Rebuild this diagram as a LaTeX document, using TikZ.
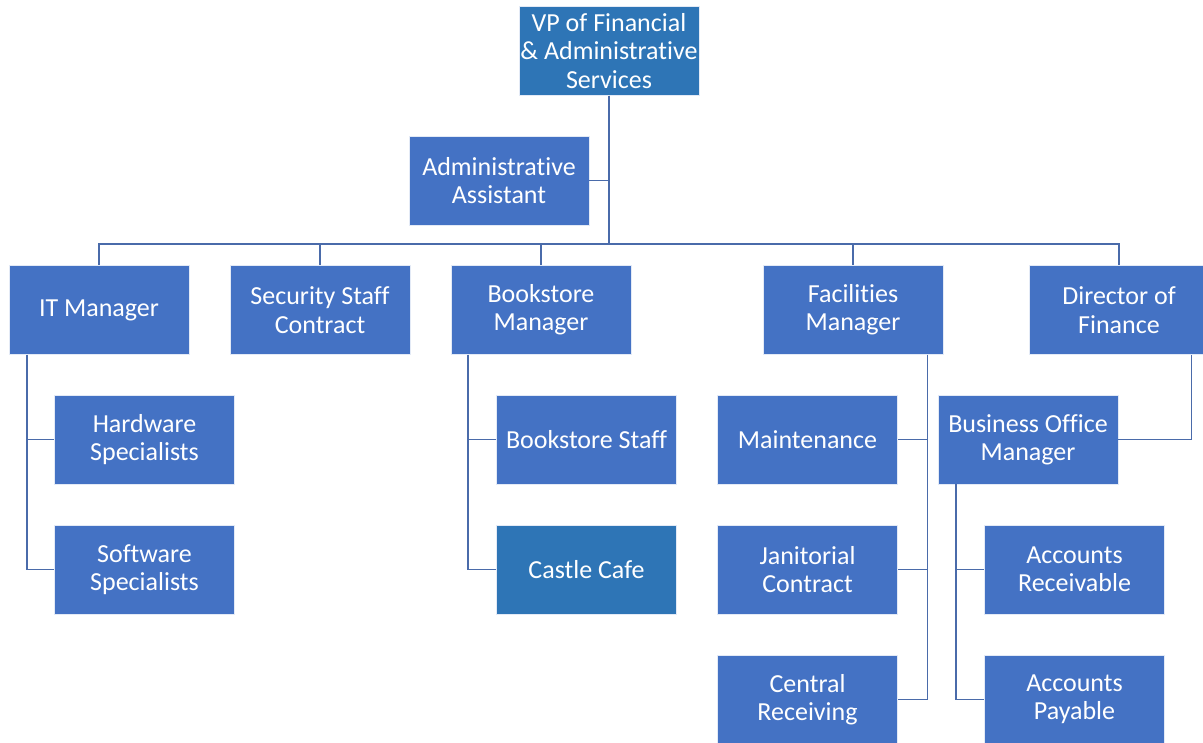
\documentclass[tikz,border=0pt]{standalone}
\usepackage{fontspec}
\setmainfont{Carlito}[Ligatures=NoCommon]
\usepackage{xcolor}
\usetikzlibrary{positioning}
\definecolor{boxblue}{HTML}{4472C4}
\definecolor{boxdark}{HTML}{2E75B6}
\definecolor{linkblue}{HTML}{4A6BAA}

\begin{document}
\begin{tikzpicture}[x=0.5pt,y=-0.5pt,
  unit/.style={draw=white!85!boxblue, line width=0.4pt, fill=boxblue, text=white,
    minimum width=90pt, minimum height=44.5pt, align=center, inner xsep=0pt,
    inner ysep=1pt, font=\fontsize{13}{14.2}\selectfont},
  link/.style={draw=linkblue, line width=0.9pt}]
\useasboundingbox (0,0) rectangle (1203,743);
% ---------- top: vp and assistant ----------
\node[unit, fill=boxdark] (vp) at (609,51) {VP of Financial\\\& Administrative\\Services};
\node[unit] (asst) at (499,180.5) {Administrative\\Assistant};
\coordinate (bus) at (609,244);
% ---------- row of managers ----------
\foreach \n/\x/\t in {it/99/{IT Manager}, sec/320/{Security Staff\\Contract},
    book/541/{Bookstore\\Manager}, fac/853/{Facilities\\Manager},
    fin/1119/{Director of\\Finance}}
  {\node[unit] (\n) at (\x,310) {\t};}
% ---------- staff under the managers ----------
\node[unit] (hw) at (144.5,439.5) {Hardware\\Specialists};
\node[unit] (sw) at (144.5,569.5) {Software\\Specialists};
\node[unit] (bstaff) at (586.5,439.5) {Bookstore Staff};
\node[unit, fill=boxdark] (cafe) at (586.5,569.5) {Castle Cafe};
\node[unit] (maint) at (807.5,439.5) {Maintenance};
\node[unit] (jan) at (807.5,569.5) {Janitorial\\Contract};
\node[unit] (recv) at (807.5,699.5) {Central\\Receiving};
\node[unit] (bom) at (1028,439.5) {Business Office\\Manager};
\node[unit] (ar) at (1074.5,569.5) {Accounts\\Receivable};
\node[unit] (ap) at (1074.5,699.5) {Accounts\\Payable};
% ---------- connectors ----------
\draw[link] (asst.east) -- (asst.east -| vp.south);
\foreach \n in {it,sec,book,fac,fin}
  {\draw[link] (vp.south) -- (bus) -| (\n.north);}
\foreach \c in {hw,sw} {\draw[link] ([xshift=9pt]it.south west) |- (\c.west);}
\foreach \c in {bstaff,cafe} {\draw[link] ([xshift=8.5pt]book.south west) |- (\c.west);}
\foreach \c in {maint,jan,recv} {\draw[link] ([xshift=-8pt]fac.south east) |- (\c.east);}
\draw[link] ([xshift=-9pt]fin.south east) |- (bom.east);
\foreach \c in {ar,ap} {\draw[link] ([xshift=9pt]bom.south west) |- (\c.west);}
\end{tikzpicture}
\end{document}
